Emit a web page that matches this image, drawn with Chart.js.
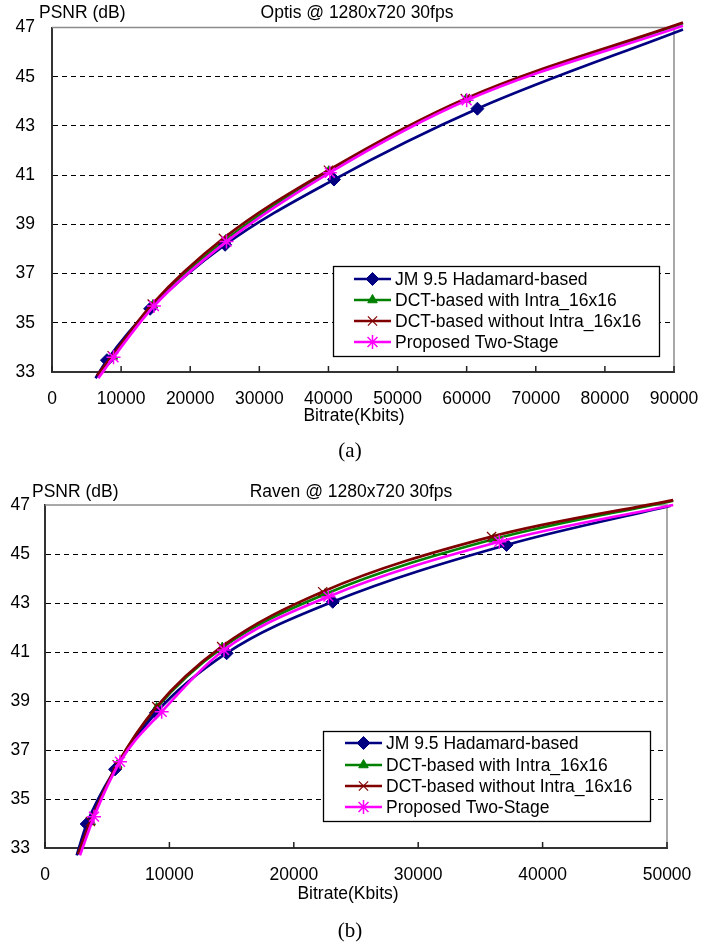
<!DOCTYPE html>
<html>
<head>
<meta charset="UTF-8">
<title>PSNR vs Bitrate</title>
<script src="https://cdn.jsdelivr.net/npm/chart.js"></script>
<style>
  body { margin: 0; background: #fff; font-family: "Liberation Sans", Arial, sans-serif; }
  #page { position: relative; width: 723px; height: 947px; overflow: hidden; }
  canvas { position: absolute; left: 0; }
  .lbl { position: absolute; color: #000; white-space: nowrap; font-size: 17.5px; line-height: 1; }
  .c { transform: translate(-50%, -50%); }
  .v { transform: translateY(-50%); }
  .cap { font-family: "Liberation Serif", "Times New Roman", serif; font-size: 21px; }
</style>
</head>
<body>
<div id="page">
  <canvas id="optis" width="723" height="470" style="top:0"></canvas>
  <canvas id="raven" width="723" height="472" style="top:475px"></canvas>

  <div class="lbl v" style="left:39px; top:13px;">PSNR (dB)</div>
  <div class="lbl c" style="left:357px; top:13px;">Optis @ 1280x720 30fps</div>
  <div class="lbl c" style="left:354px; top:416px;">Bitrate(Kbits)</div>
  <div class="lbl c cap" style="left:350px; top:450px;">(a)</div>

  <div class="lbl v" style="left:32px; top:492px;">PSNR (dB)</div>
  <div class="lbl c" style="left:351px; top:492px;">Raven @ 1280x720 30fps</div>
  <div class="lbl c" style="left:348px; top:894px;">Bitrate(Kbits)</div>
  <div class="lbl c cap" style="left:350px; top:930px;">(b)</div>
</div>

<script>
// series names (legend order)
const seriesNames = ["JM 9.5 Hadamard-based", "DCT-based with Intra_16x16",
                     "DCT-based without Intra_16x16", "Proposed Two-Stage"];

// axis ticks
const psnrTicks = [33, 35, 37, 39, 41, 43, 45, 47];
const optisRateTicks = [0, 10000, 20000, 30000, 40000, 50000, 60000, 70000, 80000, 90000];
const ravenRateTicks = [0, 10000, 20000, 30000, 40000, 50000];

// (a) Optis - bitrate (Kbits) / PSNR (dB); first and last points lie just outside the axes
const optisRateJM   = [6300, 7950, 14200, 25050, 40800, 61550, 91300];
const optisPsnrJM   = [32.75, 33.48, 35.57, 38.17, 40.82, 43.70, 46.92];
const optisRateDct  = [6500, 8800, 14600, 25100, 40050, 59900, 91300];
const optisPsnrDct  = [32.80, 33.63, 35.72, 38.36, 41.16, 44.08, 47.17];
const optisRateDctN = [6500, 8700, 14500, 24800, 40000, 59800, 91300];
const optisPsnrDctN = [32.85, 33.66, 35.76, 38.43, 41.20, 44.11, 47.20];
const optisRateProp = [6700, 8900, 14750, 25250, 40200, 60000, 91300];
const optisPsnrProp = [32.75, 33.60, 35.68, 38.30, 41.10, 44.04, 47.07];

// (b) Raven
const ravenRateJM   = [2550, 3350, 5630, 8920, 14600, 23130, 37100, 50300];
const ravenPsnrJM   = [32.70, 33.98, 36.21, 38.52, 40.95, 43.05, 45.37, 46.97];
const ravenRateDct  = [2650, 3670, 5810, 8980, 14250, 22510, 36040, 50500];
const ravenPsnrDct  = [32.75, 34.07, 36.39, 38.72, 41.18, 43.36, 45.60, 47.18];
const ravenRateDctN = [2650, 3650, 5800, 8980, 14200, 22320, 35900, 50500];
const ravenPsnrDctN = [32.75, 34.08, 36.40, 38.77, 41.22, 43.46, 45.71, 47.20];
const ravenRateProp = [2810, 3940, 6030, 9380, 14390, 22780, 36520, 50500];
const ravenPsnrProp = [32.70, 34.28, 36.52, 38.56, 41.08, 43.26, 45.50, 47.00];

const styles = [
  { color: '#000080', pointStyle: 'rectRot',  radius: 6.5, pw: 1,   order: 2 },
  { color: '#008000', pointStyle: 'triangle', radius: 5.5, pw: 1,   order: 3 },
  { color: '#800000', pointStyle: 'crossRot', radius: 6.5, pw: 1.2, order: 1 },
  { color: '#ff00ff', pointStyle: 'star',     radius: 7,   pw: 1.5, order: 0 }
];

function makeDataset(i, rates, psnr) {
  const s = styles[i];
  const last = rates.length - 1;
  return {
    label: seriesNames[i],
    data: rates.map((r, k) => ({ x: r, y: psnr[k] })),
    borderColor: s.color,
    backgroundColor: s.color,
    borderWidth: 2.7,
    pointStyle: s.pointStyle,
    pointBackgroundColor: s.color,
    pointBorderColor: s.color,
    pointBorderWidth: s.pw,
    pointRadius: ctx => (ctx.dataIndex === 0 || ctx.dataIndex === last) ? 0 : s.radius,
    legendRadius: s.radius,
    cubicInterpolationMode: 'monotone',
    clip: false,
    order: s.order
  };
}

// legend box drawn inside the plot, like the original
const boxLegend = {
  id: 'boxLegend',
  afterDraw(chart, args, o) {
    const ctx = chart.ctx;
    ctx.save();
    ctx.fillStyle = '#fff';
    ctx.fillRect(o.x1, o.y1, o.x2 - o.x1, o.y2 - o.y1);
    ctx.strokeStyle = '#000';
    ctx.lineWidth = 1.3;
    ctx.strokeRect(o.x1 + 0.5, o.y1 + 0.5, o.x2 - o.x1, o.y2 - o.y1);
    chart.data.datasets.forEach((ds, i) => {
      const y = o.rowY[i];
      ctx.strokeStyle = ds.borderColor;
      ctx.lineWidth = ds.borderWidth;
      ctx.beginPath();
      ctx.moveTo(o.lineX1, y);
      ctx.lineTo(o.lineX2, y);
      ctx.stroke();
      ctx.fillStyle = ds.pointBackgroundColor;
      ctx.strokeStyle = ds.pointBorderColor;
      ctx.lineWidth = ds.pointBorderWidth;
      Chart.helpers.drawPoint(ctx, {
        pointStyle: ds.pointStyle, rotation: 0,
        radius: ds.legendRadius, borderWidth: ds.pointBorderWidth
      }, (o.lineX1 + o.lineX2) / 2, y);
      ctx.fillStyle = '#000';
      ctx.font = '17.5px "Liberation Sans", Arial, sans-serif';
      ctx.textBaseline = 'middle';
      ctx.fillText(ds.label, o.textX, y + 1);
    });
    ctx.restore();
  }
};

// gray top/right frame and inward x ticks
const frame = {
  id: 'frame',
  beforeDatasetsDraw(chart) {
    const { ctx, chartArea: a } = chart;
    ctx.save();
    ctx.strokeStyle = '#8c8c8c';
    ctx.lineWidth = 1.5;
    ctx.beginPath();
    ctx.moveTo(a.left, a.top);
    ctx.lineTo(a.right, a.top);
    ctx.lineTo(a.right, a.bottom);
    ctx.stroke();
    const xs = chart.scales.x;
    ctx.strokeStyle = '#222';
    ctx.lineWidth = 1.5;
    xs.ticks.forEach(t => {
      const px = xs.getPixelForValue(t.value);
      ctx.beginPath();
      ctx.moveTo(px, a.bottom);
      ctx.lineTo(px, a.bottom - 6);
      ctx.stroke();
    });
    ctx.restore();
  }
};

function makeChart(id, datasets, rateTicks, lay) {
  const tickFont = { family: '"Liberation Sans", Arial, sans-serif', size: 17.5 };
  return new Chart(document.getElementById(id), {
    type: 'line',
    data: { datasets },
    options: {
      responsive: false,
      animation: false,
      events: [],
      layout: { padding: { top: lay.top, right: lay.right, left: 0, bottom: 0 } },
      plugins: { legend: { display: false }, tooltip: { enabled: false }, boxLegend: lay.legend },
      scales: {
        x: {
          type: 'linear',
          min: rateTicks[0], max: rateTicks[rateTicks.length - 1],
          afterBuildTicks: s => { s.ticks = rateTicks.map(v => ({ value: v })); },
          afterFit: s => { s.height = lay.xh; },
          grid: { display: false, drawTicks: false },
          border: { color: '#333', width: 2 },
          ticks: { color: '#000', font: tickFont, padding: 17, maxRotation: 0, autoSkip: false,
                   callback: v => String(v) }
        },
        y: {
          min: psnrTicks[0], max: psnrTicks[psnrTicks.length - 1],
          afterBuildTicks: s => { s.ticks = psnrTicks.map(v => ({ value: v })); },
          afterFit: s => { s.width = lay.yw; },
          grid: {
            drawTicks: false,
            lineWidth: 1,
            color: c => (c.tick && (c.tick.value === psnrTicks[0] || c.tick.value === psnrTicks[psnrTicks.length - 1])) ? 'rgba(0,0,0,0)' : '#000'
          },
          border: { color: '#333', width: 2, dash: [5, 4] },
          ticks: { color: '#000', font: tickFont, padding: lay.ypad, callback: v => String(v) }
        }
      }
    },
    plugins: [frame, boxLegend]
  });
}

makeChart('optis', [
  makeDataset(0, optisRateJM, optisPsnrJM),
  makeDataset(1, optisRateDct, optisPsnrDct),
  makeDataset(2, optisRateDctN, optisPsnrDctN),
  makeDataset(3, optisRateProp, optisPsnrProp)
], optisRateTicks, {
  top: 25, right: 49, yw: 52, xh: 98, ypad: 17,
  legend: { x1: 333, y1: 266, x2: 659, y2: 356, rowY: [279, 300, 321, 342], lineX1: 354, lineX2: 391, textX: 395 }
});

makeChart('raven', [
  makeDataset(0, ravenRateJM, ravenPsnrJM),
  makeDataset(1, ravenRateDct, ravenPsnrDct),
  makeDataset(2, ravenRateDctN, ravenPsnrDctN),
  makeDataset(3, ravenRateProp, ravenPsnrProp)
], ravenRateTicks, {
  top: 30, right: 56, yw: 45, xh: 99, ypad: 15,
  legend: { x1: 323, y1: 256, x2: 650, y2: 346, rowY: [268, 290, 311, 332], lineX1: 345, lineX2: 382, textX: 386 }
});
</script>
</body>
</html>
